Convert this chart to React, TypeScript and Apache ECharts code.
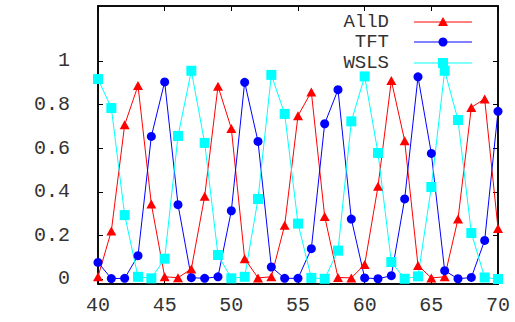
import React, { useEffect, useRef } from "react";
import * as echarts from "echarts";

const xValues = [40,41,42,43,44,45,46,47,48,49,50,51,52,53,54,55,56,57,58,59,60,61,62,63,64,65,66,67,68,69,70];
const allD = [0.01,0.22,0.707,0.887,0.344,0.01,0.006,0.046,0.379,0.884,0.69,0.093,0.005,0.01,0.246,0.749,0.858,0.287,0.007,0.005,0.066,0.425,0.91,0.634,0.062,0.005,0.01,0.275,0.787,0.826,0.232];
const tft = [0.076,0.002,0.003,0.107,0.654,0.904,0.341,0.006,0.003,0.01,0.313,0.902,0.631,0.055,0.003,0.003,0.139,0.712,0.868,0.275,0.005,0.001,0.015,0.367,0.927,0.576,0.038,0.001,0.007,0.177,0.769];
const wsls = [0.917,0.784,0.293,0.01,0.003,0.093,0.656,0.955,0.624,0.11,0.003,0.01,0.367,0.936,0.757,0.254,0.005,0.001,0.13,0.723,0.929,0.578,0.078,0.001,0.012,0.422,0.955,0.729,0.211,0.007,0.0];
const yTicks = [0, 0.2, 0.4, 0.6, 0.8, 1];
const seriesNames = ["AllD", "TFT", "WSLS"];

const FONT = "'Liberation Mono', 'DejaVu Sans Mono', monospace";
const TXT = "#333";

export default function App() {
  const ref = useRef<HTMLDivElement>(null);
  useEffect(() => {
    if (!ref.current) return;
    const chart = echarts.init(ref.current, undefined, { renderer: "svg" });
    const pair = (ys: number[]) => xValues.map((x, i) => [x, ys[i]]);
    const axisLine = { show: true, onZero: false, lineStyle: { color: "#000", width: 1.5 } };
    const tick = { show: true, inside: true, length: 5, lineStyle: { color: "#000", width: 1 } };
    const legendRows = [
      { name: seriesNames[0], color: "#ff0000", y: 22 },
      { name: seriesNames[1], color: "#0000ff", y: 42 },
      { name: seriesNames[2], color: "#00ffff", y: 63 },
    ];
    const markerFor = (i: number, cx: number, cy: number, color: string) => {
      if (i === 0)
        return { type: "polygon", shape: { points: [[cx, cy - 5], [cx + 5, cy + 4], [cx - 5, cy + 4]] }, style: { fill: color } };
      if (i === 1) return { type: "circle", shape: { cx, cy, r: 4.5 }, style: { fill: color } };
      return { type: "rect", shape: { x: cx - 5, y: cy - 5, width: 10, height: 10 }, style: { fill: color } };
    };
    const graphics: any[] = [];
    legendRows.forEach((r, i) => {
      graphics.push({
        type: "text",
        x: 389,
        y: r.y,
        style: { text: r.name, font: `19px ${FONT}`, fill: TXT, textAlign: "right", textVerticalAlign: "middle" },
      });
      graphics.push({ type: "line", shape: { x1: 414, y1: r.y, x2: 472, y2: r.y }, style: { stroke: r.color, lineWidth: 1 } });
      graphics.push(markerFor(i, 443, r.y, r.color));
    });
    chart.setOption({
      animation: false,
      backgroundColor: "#fff",
      grid: { left: 98, right: 17, top: 6, bottom: 38, show: true, borderColor: "#000", borderWidth: 1.5, backgroundColor: "transparent" },
      xAxis: [
        {
          type: "value", min: 40, max: 70, interval: 5, position: "bottom",
          axisLine, axisTick: tick, splitLine: { show: false },
          axisLabel: { fontFamily: FONT, fontSize: 20, color: TXT, margin: 11 },
        },
        {
          type: "value", min: 40, max: 70, interval: 5, position: "top",
          axisLine, axisTick: tick, splitLine: { show: false }, axisLabel: { show: false },
        },
      ],
      yAxis: [
        {
          type: "value", min: -0.023, max: 1.252, position: "left",
          axisLine, splitLine: { show: false },
          axisTick: { ...tick, customValues: yTicks },
          axisLabel: { customValues: yTicks, fontFamily: FONT, fontSize: 20, color: TXT, margin: 28 },
        },
        {
          type: "value", min: -0.023, max: 1.252, position: "right",
          axisLine, splitLine: { show: false },
          axisTick: { ...tick, customValues: yTicks },
          axisLabel: { show: false, customValues: yTicks },
        },
      ],
      series: [
        {
          name: seriesNames[0], type: "line", data: pair(allD), symbol: "triangle", symbolSize: [10, 9],
          itemStyle: { color: "#ff0000" }, lineStyle: { color: "#ff0000", width: 1 },
        },
        {
          name: seriesNames[1], type: "line", data: pair(tft), symbol: "circle", symbolSize: 9,
          itemStyle: { color: "#0000ff" }, lineStyle: { color: "#0000ff", width: 1 },
        },
        {
          name: seriesNames[2], type: "line", data: pair(wsls), symbol: "rect", symbolSize: 10,
          itemStyle: { color: "#00ffff" }, lineStyle: { color: "#00ffff", width: 1 },
        },
      ],
      graphic: graphics,
    });
    return () => chart.dispose();
  }, []);
  return <div ref={ref} style={{ width: 515, height: 322, position: "absolute", left: 0, top: 0 }} />;
}
